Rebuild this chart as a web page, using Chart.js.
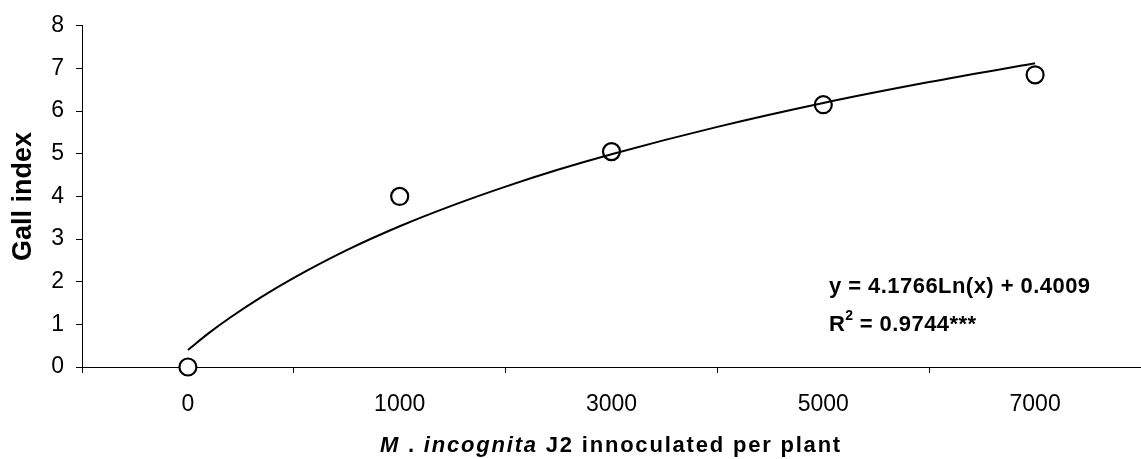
<!DOCTYPE html>
<html>
<head>
<meta charset="utf-8">
<script src="https://cdn.jsdelivr.net/npm/chart.js@4"></script>
<style>
  html, body { margin: 0; padding: 0; background: #fff; }
  #wrap { width: 1141px; height: 459px; position: relative; }
</style>
</head>
<body>
<div id="wrap"><canvas id="gallChart"></canvas></div>
<script>
// inoculum levels shown on the x axis (one slot per level)
const categories = ["0", "1000", "3000", "5000", "7000"];
// mean gall index per level
const gallIndex = [0, 4.0, 5.05, 6.15, 6.85];
// fitted log trendline (x = slot position 1..5)
const trendX = [1, 1.1, 1.2, 1.35, 1.5, 1.75, 2, 2.25, 2.5, 2.75, 3, 3.5, 4, 4.5, 5];
const trendY = [0.40, 0.80, 1.16, 1.65, 2.09, 2.74, 3.30, 3.79, 4.23, 4.63, 4.99, 5.63, 6.19, 6.68, 7.12];
const yTicks = [0, 1, 2, 3, 4, 5, 6, 7, 8];

const FONT = "'Liberation Sans', Arial, sans-serif";

const isHalf = (v) => Math.abs(v - Math.round(v)) > 0.01;

// draw a run of text pieces letter by letter with extra spacing
function spacedText(ctx, parts, x, y, spacing) {
  for (const p of parts) {
    ctx.font = p.f + FONT;
    for (const ch of p.t) {
      ctx.fillText(ch, x, y);
      x += ctx.measureText(ch).width + spacing;
    }
  }
  return x;
}

function spacedWidth(ctx, parts, spacing) {
  let w = 0;
  for (const p of parts) {
    ctx.font = p.f + FONT;
    w += ctx.measureText(p.t).width + p.t.length * spacing;
  }
  return w;
}

// text that is not part of the axes: axis titles and the fit equation
const annotations = {
  id: "annotations",
  afterDraw(chart) {
    const ctx = chart.ctx;
    const area = chart.chartArea;
    ctx.save();
    ctx.fillStyle = "#000";
    ctx.textBaseline = "alphabetic";
    ctx.textAlign = "left";

    // y axis title
    ctx.save();
    ctx.translate(31, (area.top + area.bottom) / 2);
    ctx.rotate(-Math.PI / 2);
    ctx.font = "bold 27px " + FONT;
    ctx.textAlign = "center";
    ctx.fillText("Gall index", 0, 0);
    ctx.restore();

    // x axis title, mixed italic / upright pieces
    const title = [
      { t: "M", f: "italic bold 22px " },
      { t: " . ", f: "bold 22px " },
      { t: "incognita", f: "italic bold 22px " },
      { t: " J2 innoculated per plant", f: "bold 22px " }
    ];
    const tSpace = 1.8;
    const tw = spacedWidth(ctx, title, tSpace);
    spacedText(ctx, title, 611 - tw / 2, 452, tSpace);

    // regression equation
    const eSpace = 0.45;
    spacedText(ctx, [{ t: "y = 4.1766Ln(x) + 0.4009", f: "bold 22px " }], 829, 293, eSpace);
    let rx = spacedText(ctx, [{ t: "R", f: "bold 22px " }], 829, 331, eSpace);
    rx = spacedText(ctx, [{ t: "2", f: "bold 14px " }], rx, 320, 0);
    spacedText(ctx, [{ t: " = 0.9744***", f: "bold 22px " }], rx, 331, eSpace);
    ctx.restore();
  }
};

new Chart(document.getElementById("gallChart"), {
  type: "scatter",
  data: {
    datasets: [
      {
        label: "Trendline",
        data: trendX.map((x, i) => ({ x: x, y: trendY[i] })),
        showLine: true,
        borderColor: "#000",
        borderWidth: 2,
        pointRadius: 0,
        cubicInterpolationMode: "monotone",
        order: 0
      },
      {
        label: "Gall index",
        data: gallIndex.map((v, i) => ({ x: i + 1, y: v })),
        pointStyle: "circle",
        pointRadius: 8.5,
        pointBorderWidth: 2.2,
        pointBorderColor: "#000",
        pointBackgroundColor: "#fff",
        showLine: false,
        clip: false,
        order: 1
      }
    ]
  },
  options: {
    responsive: true,
    maintainAspectRatio: false,
    animation: false,
    layout: { autoPadding: false, padding: { top: 23, right: 0, left: 0, bottom: 0 } },
    plugins: {
      legend: { display: false },
      tooltip: { enabled: false }
    },
    scales: {
      x: {
        type: "linear",
        min: 0.5,
        max: 5.5,
        afterBuildTicks: (scale) => {
          const t = [];
          for (let v = 0.5; v <= 5.5; v += 0.5) t.push({ value: v });
          scale.ticks = t;
        },
        afterFit: (scale) => {
          scale.height = 92;
          // run the axis right up to the canvas edge
          scale.paddingLeft = 0;
          scale.paddingRight = 0;
        },
        border: { display: true, color: "#000", width: 1 },
        grid: {
          drawOnChartArea: false,
          drawTicks: true,
          tickLength: 6,
          color: (c) => (c.tick && isHalf(c.tick.value) ? "#000" : "rgba(0,0,0,0)")
        },
        ticks: {
          autoSkip: false,
          maxRotation: 0,
          padding: 18,
          color: "#000",
          font: { family: FONT, size: 23 },
          callback: (v) => (isHalf(v) ? "" : categories[Math.round(v) - 1])
        }
      },
      y: {
        min: 0,
        max: 8,
        afterBuildTicks: (scale) => {
          scale.ticks = yTicks.map((v) => ({ value: v }));
        },
        afterFit: (scale) => { scale.width = 82; },
        border: { display: true, color: "#000", width: 1 },
        grid: {
          drawOnChartArea: false,
          drawTicks: true,
          tickLength: 6,
          color: "#000"
        },
        ticks: {
          padding: 12,
          color: "#000",
          font: { family: FONT, size: 23 }
        }
      }
    }
  },
  plugins: [annotations]
});
</script>
</body>
</html>
